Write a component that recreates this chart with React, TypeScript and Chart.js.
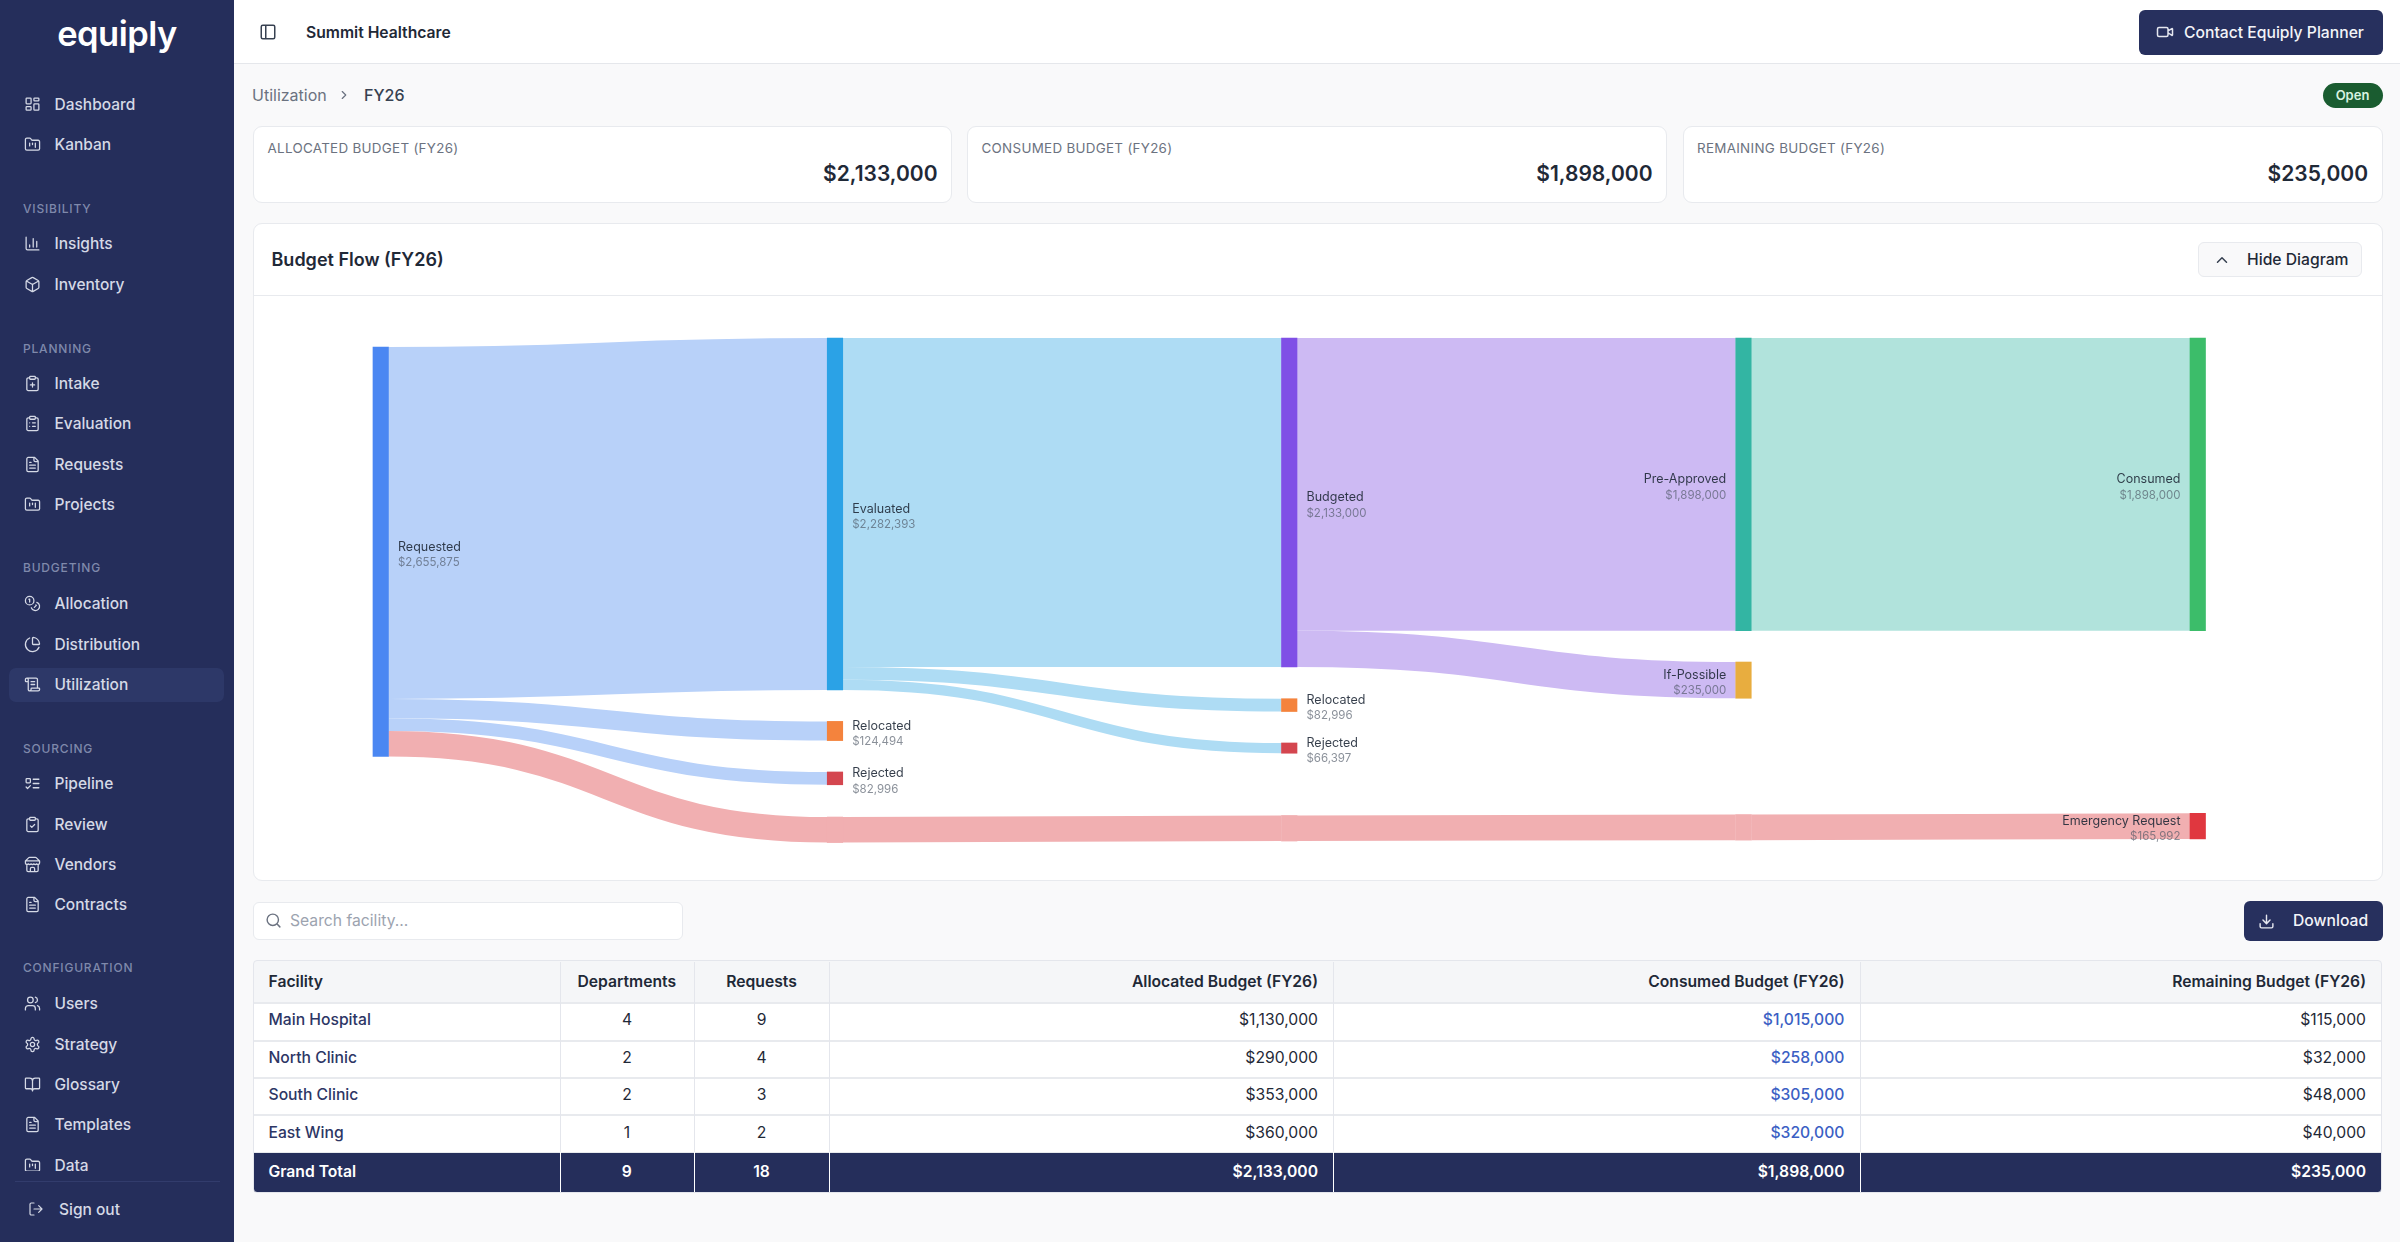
import React, { useEffect, useRef } from 'react';
import { Chart, registerables } from 'chart.js';

Chart.register(...registerables);

// sankey nodes. the three unnamed ones just carry the emergency band across the middle columns
const nodeNames = ['Requested', 'Evaluated', 'Relocated', 'Rejected', 'Budgeted', 'Relocated', 'Rejected', 'Pre-Approved', 'If-Possible', 'Consumed', 'Emergency Request', '', '', ''];
const nodeStages = [0, 1, 1, 1, 2, 2, 2, 3, 3, 4, 4, 1, 2, 3];
const nodeValues = [2655875, 2282393, 124494, 82996, 2133000, 82996, 66397, 1898000, 235000, 1898000, 165992, 165992, 165992, 165992];
const nodeOffsets = [58000, 0, 2486000, 2814000, 0, 2339000, 2626000, 0, 2101000, 0, 3082000, 3106000, 3096000, 3090000];
const nodeColors = ['#4b87f2', '#2ba2e6', '#f4833d', '#d4464f', '#7f4fe6', '#f4833d', '#d4464f', '#33b5a3', '#e8ad3f', '#3cbd6a', '#e0373f', '#f1afb1', '#f1afb1', '#f1afb1'];

const linkSources = [0, 0, 0, 0, 1, 1, 1, 4, 4, 7, 11, 12, 13];
const linkTargets = [1, 2, 3, 11, 4, 5, 6, 7, 8, 9, 12, 13, 10];
const linkValues = [2282393, 124494, 82996, 165992, 2133000, 82996, 66397, 1898000, 235000, 1898000, 165992, 165992, 165992];
const linkColors = ['#b8d1f9', '#b8d1f9', '#b8d1f9', '#f1afb1', '#aedcf4', '#aedcf4', '#aedcf4', '#cdbaf3', '#cdbaf3', '#b1e3dc', '#f1afb1', '#f1afb1', '#f1afb1'];

const kpiLabels = ['ALLOCATED BUDGET (FY26)', 'CONSUMED BUDGET (FY26)', 'REMAINING BUDGET (FY26)'];
const kpiValues = ['$2,133,000', '$1,898,000', '$235,000'];

const facilities = ['Main Hospital', 'North Clinic', 'South Clinic', 'East Wing'];
const departments = [4, 2, 2, 1];
const requests = [9, 4, 3, 2];
const allocated = ['$1,130,000', '$290,000', '$353,000', '$360,000'];
const consumed = ['$1,015,000', '$258,000', '$305,000', '$320,000'];
const remaining = ['$115,000', '$32,000', '$48,000', '$40,000'];
const totals = ['Grand Total', '9', '18', '$2,133,000', '$1,898,000', '$235,000'];
const headers = ['Facility', 'Departments', 'Requests', 'Allocated Budget (FY26)', 'Consumed Budget (FY26)', 'Remaining Budget (FY26)'];

const NODE_W = 15.5;
const FONT = 'Inter, sans-serif';
const NAVY = '#252e5b';

const money = (v: number) => '$' + v.toLocaleString('en-US');

const circle = (cx: number, cy: number, r: number) => `M${cx - r} ${cy}a${r} ${r} 0 1 0 ${2 * r} 0a${r} ${r} 0 1 0 ${-2 * r} 0`;
const clip = 'M9 2h6a1 1 0 0 1 1 1v2a1 1 0 0 1-1 1H9a1 1 0 0 1-1-1V3a1 1 0 0 1 1-1zM16 4h2a2 2 0 0 1 2 2v14a2 2 0 0 1-2 2H6a2 2 0 0 1-2-2V6a2 2 0 0 1 2-2h2';
const fileText = 'M15 2H6a2 2 0 0 0-2 2v16a2 2 0 0 0 2 2h12a2 2 0 0 0 2-2V7ZM14 2v4a2 2 0 0 0 2 2h4M10 9H8M16 13H8M16 17H8';
const folder = 'M20 20a2 2 0 0 0 2-2V8a2 2 0 0 0-2-2h-7.9a2 2 0 0 1-1.69-.9L9.6 3.9A2 2 0 0 0 7.93 3H4a2 2 0 0 0-2 2v13a2 2 0 0 0 2 2ZM8 10v4M12 10v2M16 10v6';

const icons: Record<string, string> = {
  dashboard: 'M4 3h5a1 1 0 0 1 1 1v6a1 1 0 0 1-1 1H4a1 1 0 0 1-1-1V4a1 1 0 0 1 1-1zM15 3h5a1 1 0 0 1 1 1v2a1 1 0 0 1-1 1h-5a1 1 0 0 1-1-1V4a1 1 0 0 1 1-1zM15 11h5a1 1 0 0 1 1 1v7a1 1 0 0 1-1 1h-5a1 1 0 0 1-1-1v-7a1 1 0 0 1 1-1zM4 15h5a1 1 0 0 1 1 1v3a1 1 0 0 1-1 1H4a1 1 0 0 1-1-1v-3a1 1 0 0 1 1-1z',
  folder,
  chart: 'M3 3v16a2 2 0 0 0 2 2h16M18 17V9M13 17V5M8 17v-3',
  box: 'M21 8a2 2 0 0 0-1-1.73l-7-4a2 2 0 0 0-2 0l-7 4A2 2 0 0 0 3 8v8a2 2 0 0 0 1 1.73l7 4a2 2 0 0 0 2 0l7-4A2 2 0 0 0 21 16ZM3.3 7l8.7 5 8.7-5M12 22V12',
  clipPlus: clip + 'M9 14h6M12 17v-6',
  clipList: clip + 'M12 11h4M12 16h4M8 11h.01M8 16h.01',
  file: fileText,
  coins: circle(8, 8, 6) + 'M18.09 10.37A6 6 0 1 1 10.34 18M7 6h1v4M16.71 13.88l.7.71-2.82 2.82',
  pie: 'M21 12c.552 0 1.005-.449.95-.998a10 10 0 0 0-8.953-8.951c-.55-.055-.998.398-.998.95v8a1 1 0 0 0 1 1zM21.21 15.89A10 10 0 1 1 8 2.83',
  scroll: 'M15 12h-5M15 8h-5M19 17V5a2 2 0 0 0-2-2H4M8 21h12a2 2 0 0 0 2-2v-1a1 1 0 0 0-1-1H11a1 1 0 0 0-1 1v1a2 2 0 1 1-4 0V5a2 2 0 1 0-4 0v2a1 1 0 0 0 1 1h3',
  todo: 'M4 5h4a1 1 0 0 1 1 1v4a1 1 0 0 1-1 1H4a1 1 0 0 1-1-1V6a1 1 0 0 1 1-1zM3 17l2 2 4-4M13 6h8M13 12h8M13 18h8',
  clipCheck: clip + 'M9 14l2 2 4-4',
  store: 'M2 7l4.41-4.41A2 2 0 0 1 7.83 2h8.34a2 2 0 0 1 1.42.59L22 7M4 12v8a2 2 0 0 0 2 2h12a2 2 0 0 0 2-2v-8M15 22v-4a2 2 0 0 0-2-2h-2a2 2 0 0 0-2 2v4M2 7h20M22 7v3a2 2 0 0 1-2 2a2.7 2.7 0 0 1-2-1 2.7 2.7 0 0 1-2 1 2.7 2.7 0 0 1-2-1 2.7 2.7 0 0 1-2 1 2.7 2.7 0 0 1-2-1 2.7 2.7 0 0 1-2 1 2.7 2.7 0 0 1-2-1 2.7 2.7 0 0 1-2 1 2 2 0 0 1-2-2V7',
  users: 'M16 21v-2a4 4 0 0 0-4-4H6a4 4 0 0 0-4 4v2' + circle(9, 7, 4) + 'M22 21v-2a4 4 0 0 0-3-3.87M16 3.13a4 4 0 0 1 0 7.75',
  cog: 'M12.22 2h-.44a2 2 0 0 0-2 2v.18a2 2 0 0 1-1 1.73l-.43.25a2 2 0 0 1-2 0l-.15-.08a2 2 0 0 0-2.73.73l-.22.38a2 2 0 0 0 .73 2.73l.15.1a2 2 0 0 1 1 1.72v.51a2 2 0 0 1-1 1.74l-.15.09a2 2 0 0 0-.73 2.73l.22.38a2 2 0 0 0 2.73.73l.15-.08a2 2 0 0 1 2 0l.43.25a2 2 0 0 1 1 1.73V20a2 2 0 0 0 2 2h.44a2 2 0 0 0 2-2v-.18a2 2 0 0 1 1-1.73l.43-.25a2 2 0 0 1 2 0l.15.08a2 2 0 0 0 2.73-.73l.22-.39a2 2 0 0 0-.73-2.73l-.15-.08a2 2 0 0 1-1-1.74v-.5a2 2 0 0 1 1-1.74l.15-.09a2 2 0 0 0 .73-2.73l-.22-.38a2 2 0 0 0-2.73-.73l-.15.08a2 2 0 0 1-2 0l-.43-.25a2 2 0 0 1-1-1.73V4a2 2 0 0 0-2-2z' + circle(12, 12, 3),
  book: 'M12 7v14M3 18a1 1 0 0 1-1-1V4a1 1 0 0 1 1-1h5a4 4 0 0 1 4 4 4 4 0 0 1 4-4h5a1 1 0 0 1 1 1v13a1 1 0 0 1-1 1h-6a3 3 0 0 0-3 3 3 3 0 0 0-3-3z',
  logout: 'M9 21H5a2 2 0 0 1-2-2V5a2 2 0 0 1 2-2h4M16 17l5-5-5-5M21 12H9',
  panel: 'M5 3h14a2 2 0 0 1 2 2v14a2 2 0 0 1-2 2H5a2 2 0 0 1-2-2V5a2 2 0 0 1 2-2zM9 3v18',
  video: 'M16 13l5.223 3.482a.5.5 0 0 0 .777-.416V7.87a.5.5 0 0 0-.752-.432L16 10.5M4 6h10a2 2 0 0 1 2 2v8a2 2 0 0 1-2 2H4a2 2 0 0 1-2-2V8a2 2 0 0 1 2-2z',
  right: 'M9 18l6-6-6-6',
  up: 'M18 15l-6-6-6 6',
  search: circle(11, 11, 8) + 'M21 21l-4.3-4.3',
  download: 'M12 15V3M21 15v4a2 2 0 0 1-2 2H5a2 2 0 0 1-2-2v-4M7 10l5 5 5-5',
};

const navGroups: [string, number, [string, number, string][]][] = [
  ['', 0, [['Dashboard', 104.5, 'dashboard'], ['Kanban', 144.5, 'folder']]],
  ['VISIBILITY', 208, [['Insights', 243.5, 'chart'], ['Inventory', 284.5, 'box']]],
  ['PLANNING', 348, [['Intake', 383.5, 'clipPlus'], ['Evaluation', 423.5, 'clipList'], ['Requests', 464.5, 'file'], ['Projects', 504, 'folder']]],
  ['BUDGETING', 567, [['Allocation', 603, 'coins'], ['Distribution', 644.5, 'pie'], ['Utilization', 684, 'scroll']]],
  ['SOURCING', 748, [['Pipeline', 783, 'todo'], ['Review', 824, 'clipCheck'], ['Vendors', 864, 'store'], ['Contracts', 904, 'file']]],
  ['CONFIGURATION', 967.5, [['Users', 1003, 'users'], ['Strategy', 1044, 'cog'], ['Glossary', 1084, 'book'], ['Templates', 1124.5, 'file'], ['Data', 1165, 'folder']]],
];

const Icon = ({ name, x, y, size = 16, color = 'currentColor', sw = 2 }: any) => (
  <svg width={size} height={size} viewBox="0 0 24 24" fill="none" stroke={color} strokeWidth={sw} strokeLinecap="round" strokeLinejoin="round"
    style={{ position: 'absolute', left: x, top: y - size / 2 }}>
    <path d={icons[name]} />
  </svg>
);

// single line of text, y is the vertical centre. right means x is the right edge
const T = ({ x, y, size = 15.7, weight = 400, color = '#1f2937', right, center, spacing, children }: any) => (
  <div style={{
    position: 'absolute', top: y + 0.8, left: x, whiteSpace: 'nowrap', fontSize: size, fontWeight: weight, color, letterSpacing: spacing,
    lineHeight: 1, transform: `translate(${right ? '-100%' : center ? '-50%' : '0'}, -50%)`,
  }}>{children}</div>
);

const Box = ({ x, y, x2, y2, bg = '#fff', border, radius = 0, children }: any) => (
  <div style={{ position: 'absolute', left: x, top: y, width: x2 - x, height: y2 - y, background: bg, border, borderRadius: radius, boxSizing: 'border-box' }}>{children}</div>
);

const SankeyChart = () => {
  const canvasRef = useRef<HTMLCanvasElement>(null);

  useEffect(() => {
    const linkPlugin = {
      id: 'sankeyLinks',
      beforeDatasetsDraw(chart: any) {
        const { ctx, scales: { x, y } } = chart;
        const used = nodeValues.map(() => 0);
        const usedIn = nodeValues.map(() => 0);
        ctx.save();
        linkValues.forEach((value, i) => {
          const s = linkSources[i];
          const t = linkTargets[i];
          const x0 = x.getPixelForValue(nodeStages[s]) + NODE_W / 2;
          const x1 = x.getPixelForValue(nodeStages[t]) - NODE_W / 2;
          const y0 = y.getPixelForValue(nodeOffsets[s] + used[s] + value / 2);
          const y1 = y.getPixelForValue(nodeOffsets[t] + usedIn[t] + value / 2);
          used[s] += value;
          usedIn[t] += value;
          const mid = (x0 + x1) / 2;
          ctx.beginPath();
          ctx.moveTo(x0, y0);
          ctx.bezierCurveTo(mid, y0, mid, y1, x1, y1);
          ctx.strokeStyle = linkColors[i];
          ctx.lineWidth = Math.abs(y.getPixelForValue(value) - y.getPixelForValue(0));
          ctx.stroke();
        });
        ctx.restore();
      },
    };

    const labelPlugin = {
      id: 'sankeyLabels',
      afterDatasetsDraw(chart: any) {
        const { ctx, scales: { x, y } } = chart;
        ctx.save();
        ctx.textBaseline = 'middle';
        nodeNames.forEach((name, i) => {
          if (!name) return;
          const flip = nodeStages[i] >= 3;
          const cx = x.getPixelForValue(nodeStages[i]);
          const mid = y.getPixelForValue(nodeOffsets[i] + nodeValues[i] / 2);
          const tx = flip ? cx - NODE_W / 2 - 9.5 : cx + NODE_W / 2 + 9.5;
          ctx.textAlign = flip ? 'right' : 'left';
          ctx.font = `12.5px ${FONT}`;
          ctx.fillStyle = 'rgba(31,41,55,0.9)';
          ctx.fillText(name, tx, mid - 4.8);
          ctx.font = `11.5px ${FONT}`;
          ctx.fillStyle = 'rgba(75,85,99,0.65)';
          ctx.fillText(money(nodeValues[i]), tx, mid + 10.8);
        });
        ctx.restore();
      },
    };

    const chart = new Chart(canvasRef.current as any, {
      type: 'bar',
      data: {
        datasets: [{
          data: nodeValues.map((v, i) => ({ x: nodeStages[i], y: [nodeOffsets[i], nodeOffsets[i] + v] })) as any,
          backgroundColor: nodeColors,
          barThickness: NODE_W,
          borderWidth: 0,
        }],
      },
      options: {
        responsive: false,
        animation: false,
        events: [],
        layout: { padding: 0 },
        plugins: { legend: { display: false }, tooltip: { enabled: false } },
        scales: {
          x: { type: 'linear', display: false, offset: false, min: -0.2746, max: 4.4056 },
          y: { type: 'linear', display: false, reverse: true, min: -266000, max: 3521000 },
        },
      },
      plugins: [linkPlugin, labelPlugin],
    });

    return () => {
      chart.destroy();
    };
  }, []);

  return <canvas ref={canvasRef} width={2126} height={584} style={{ position: 'absolute', left: 256, top: 296.5, display: 'block' }} />;
};

const colEdges = [254, 559.5, 694, 829, 1333, 1859.5, 2381];
const rowMids = [1019.5, 1057, 1094.5, 1132];
const rowLines = [1002, 1040, 1077, 1114, 1151.5];

const App = () => {
  return (
    <div style={{ position: 'fixed', left: 0, top: 0, width: 2400, height: 1242, overflow: 'hidden', background: '#f9f9fa', fontFamily: FONT }}>
      {/* sidebar */}
      <Box x={0} y={0} x2={234} y2={1242} bg={NAVY}>
        <T x={117} y={33} size={34.5} weight={600} color="#fff" center spacing={-0.5}>equiply</T>
        <div style={{ position: 'absolute', left: 0, top: 0, width: 234, height: 1171, overflow: 'hidden' }}>
          <Box x={9} y={668} x2={224} y2={702} bg="#2d3868" radius={7} />
          {navGroups.map(([title, ty, items]) => (
            <React.Fragment key={title}>
              {title && <T x={23} y={ty} size={12} weight={500} color="#7f89ab" spacing={0.8}>{title}</T>}
              {items.map(([label, y, icon]) => (
                <React.Fragment key={label}>
                  <Icon name={icon} x={23.5} y={y} size={17} color="#d5d9e6" sw={1.8} />
                  <T x={54.5} y={y} size={15.5} weight={500} color="#d5d9e6">{label}</T>
                </React.Fragment>
              ))}
            </React.Fragment>
          ))}
        </div>
        <Box x={15} y={1181} x2={220} y2={1182} bg="#323c6c" />
        <Icon name="logout" x={28} y={1209} size={16} color="#d5d9e6" sw={1.8} />
        <T x={59} y={1209} size={15.5} weight={500} color="#d5d9e6">Sign out</T>
      </Box>

      {/* top bar */}
      <Box x={234} y={0} x2={2400} y2={64} bg="#fff" border="none" />
      <Box x={234} y={63} x2={2400} y2={64} bg="#e5e7eb" />
      <Icon name="panel" x={259} y={32} size={18} color="#374151" />
      <T x={306} y={32} weight={600} color="#1f2937">Summit Healthcare</T>
      <Box x={2139} y={10} x2={2382.5} y2={55} bg="#27305e" radius={6} />
      <Icon name="video" x={2156} y={32} size={18} color="#e5e7f0" />
      <T x={2184} y={32} weight={500} color="#f3f4f8">Contact Equiply Planner</T>

      {/* breadcrumb */}
      <T x={252} y={94} size={16} color="#6b7280">Utilization</T>
      <Icon name="right" x={337} y={95} size={14} color="#6b7280" />
      <T x={364} y={94} size={16} weight={500} color="#374151">FY26</T>
      <Box x={2322.5} y={83} x2={2382.5} y2={108} bg="#1a5c30" radius={13} />
      <T x={2352.5} y={94.5} size={13} weight={600} color="#d8f3e0" center>Open</T>

      {/* kpi cards */}
      {[[253, 952], [967, 1667], [1682.5, 2382.5]].map(([x, x2], i) => (
        <React.Fragment key={x}>
          <Box x={x} y={126} x2={x2} y2={203} border="1.5px solid #e8eaee" radius={9} />
          <T x={x + 14.5} y={148} size={13.4} color="#6b7280" spacing={0.3}>{kpiLabels[i]}</T>
          <T x={x2 - 14.5} y={172.5} size={21} weight={600} color="#1f2937" right>{kpiValues[i]}</T>
        </React.Fragment>
      ))}

      {/* diagram panel */}
      <Box x={253} y={223} x2={2382.5} y2={881} border="1.5px solid #e8eaee" radius={9} />
      <Box x={254} y={294.5} x2={2381.5} y2={296} bg="#e8eaee" />
      <T x={271.5} y={259.5} size={18} weight={600} color="#1f2937">Budget Flow (FY26)</T>
      <Box x={2198} y={242} x2={2362} y2={277} bg="#f9f9fa" border="1.5px solid #e8eaee" radius={6} />
      <Icon name="up" x={2213} y={259.5} size={18} color="#374151" />
      <T x={2247} y={259} weight={500} color="#1f2937">Hide Diagram</T>
      <SankeyChart />

      {/* table toolbar */}
      <Box x={253} y={902} x2={683} y2={940} border="1.5px solid #e8eaee" radius={6} />
      <Icon name="search" x={265} y={920.5} size={17} color="#6b7280" />
      <T x={290} y={920} color="#9ca3af">Search facility...</T>
      <Box x={2244} y={901} x2={2382.5} y2={941} bg="#27305e" radius={6} />
      <Icon name="download" x={2258} y={921} size={17} color="#e5e7f0" />
      <T x={2293} y={920.5} weight={500} color="#f3f4f8">Download</T>

      {/* table */}
      <Box x={254} y={961} x2={2381} y2={1002} bg="#f5f6f8" />
      <Box x={254} y={1002} x2={2381} y2={1152} bg="#fff" />
      <Box x={254} y={1152} x2={2381} y2={1192} bg={NAVY} />
      <Box x={253} y={960} x2={2382} y2={1193} border="1.5px solid #e4e6ec" radius={4} bg="transparent" />
      {rowLines.map((y) => <Box key={y} x={254} y={y} x2={2381} y2={y + 1.5} bg="#e8eaee" />)}
      {colEdges.slice(1, 6).map((x) => (
        <React.Fragment key={x}>
          <Box x={x} y={962} x2={x + 1} y2={1152} bg="#e4e6ec" />
          <Box x={x} y={1152} x2={x + 1} y2={1192} bg="#fff" />
        </React.Fragment>
      ))}
      {headers.map((h, i) => {
        const mid = (colEdges[i] + colEdges[i + 1]) / 2;
        if (i === 0) return <T key={h} x={268.5} y={981} weight={600}>{h}</T>;
        if (i < 3) return <T key={h} x={mid} y={981} weight={600} center>{h}</T>;
        return <T key={h} x={colEdges[i + 1] - 15} y={981} weight={600} right>{h}</T>;
      })}
      {facilities.map((f, r) => (
        <React.Fragment key={f}>
          <T x={268.5} y={rowMids[r]} weight={500} color="#2d3665">{f}</T>
          <T x={627} y={rowMids[r]} center>{departments[r]}</T>
          <T x={761.5} y={rowMids[r]} center>{requests[r]}</T>
          <T x={1318} y={rowMids[r]} right>{allocated[r]}</T>
          <T x={1844.5} y={rowMids[r]} weight={500} color="#3b5fc4" right>{consumed[r]}</T>
          <T x={2366} y={rowMids[r]} right>{remaining[r]}</T>
        </React.Fragment>
      ))}
      {totals.map((t, i) => {
        const mid = (colEdges[i] + colEdges[i + 1]) / 2;
        if (i === 0) return <T key={i} x={268.5} y={1171} weight={600} color="#fff">{t}</T>;
        if (i < 3) return <T key={i} x={mid} y={1171} weight={600} color="#fff" center>{t}</T>;
        return <T key={i} x={colEdges[i + 1] - 15} y={1171} weight={600} color="#fff" right>{t}</T>;
      })}
    </div>
  );
};

export default App;
